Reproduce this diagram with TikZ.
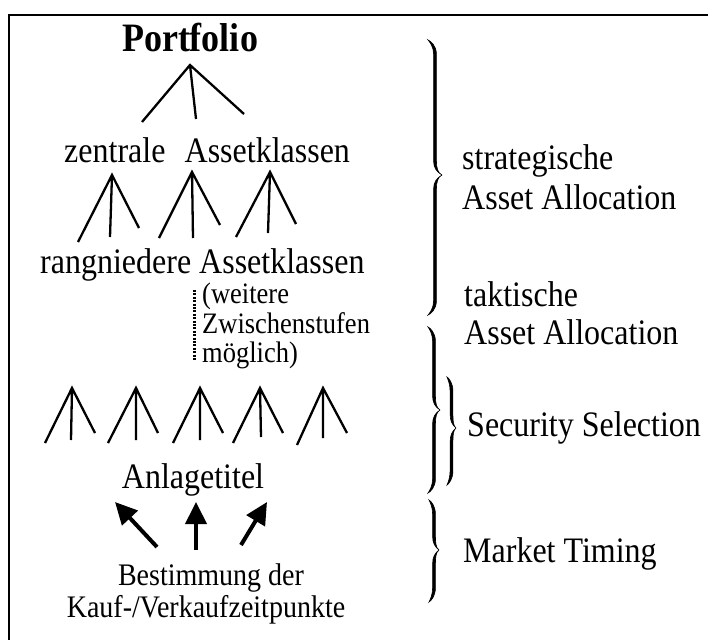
\documentclass[tikz,border=0pt]{standalone}
\usepackage{fontspec}
\setmainfont{Liberation Serif}
\usetikzlibrary{arrows.meta}

\tikzset{
  tall/.style={yscale=1.12},
  lbl/.style={font=\fontsize{32}{38}\selectfont, inner sep=0pt, anchor=base, tall},
  lblw/.style={lbl, anchor=base west},
  title/.style={font=\bfseries\fontsize{36}{40}\selectfont, inner sep=0pt, anchor=base, tall},
  note/.style={font=\fontsize{26.5}{30}\selectfont, inner sep=0pt, anchor=base west, tall},
  foot/.style={font=\fontsize{28}{32}\selectfont, inner sep=0pt, anchor=base, tall},
  branch/.style={line width=2.3pt},
  timing/.style={line width=4pt, -{Triangle[length=22pt,width=21pt]}},
  frameline/.style={line width=2.2pt},
  dots/.style={line width=3pt, dash pattern=on 2pt off 1.4pt},
}

% a three-legged fork: name, apex, left / middle / right end
\newcommand\tripod[5]{%
  \coordinate (#1) at (#2);
  \coordinate (#1-l) at (#3);
  \coordinate (#1-m) at (#4);
  \coordinate (#1-r) at (#5);
  \draw[branch] (#1-l) -- (#1) -- (#1-r) (#1) -- (#1-m);
}

% one half of a curly brace: cusp at the origin, end at (-width,-length)
\newcommand\halfbrace[2]{%
  \filldraw[line width=0.6pt]
    (0,0) .. controls ({-0.3*(#1)},-2) and ({-0.5*(#1)+1.4},-7) .. ({-0.5*(#1)+1.4},-14)
    -- ({-0.5*(#1)+1.4},{-(#2)+14})
    .. controls ({-0.5*(#1)+1.4},{-(#2)+6}) and ({-0.8*(#1)},{-(#2)+1}) .. ({-(#1)},{-(#2)})
    .. controls ({-0.8*(#1)-1},{-(#2)+2}) and ({-0.5*(#1)-1.4},{-(#2)+7}) .. ({-0.5*(#1)-1.4},{-(#2)+14})
    -- ({-0.5*(#1)-1.4},-14)
    .. controls ({-0.5*(#1)-1.4},-7) and ({-0.3*(#1)-1},-3) .. (0,0) -- cycle;
}

% full brace: left x, top y, cusp y, bottom y, width
\newcommand\curlybrace[5]{%
  \begin{scope}[shift={(#1+#5,#3)}]\halfbrace{#5}{#3-#2}\end{scope}
  \begin{scope}[shift={(#1+#5,#3)},yscale=-1]\halfbrace{#5}{#4-#3}\end{scope}
}

\begin{document}
\begin{tikzpicture}[x=1pt,y=-1pt]
  \useasboundingbox (0,0) rectangle (708,639);
  \clip (0,0) rectangle (708,639);

  % frame
  \draw[frameline] (9,650) -- (9,15) -- (720,15);

  % hierarchy labels
  \node[title] (portfolio) at (190,52) {Portfolio};
  \node[lblw] (zentral) at (64,162) {zentrale\hspace{0.6em}Assetklassen};
  \node[lblw] (rang) at (40,273) {rangniedere Assetklassen};
  \node[note] (n1) at (202,303) {(weitere};
  \node[note] (n2) at (202,333) {Zwischenstufen};
  \node[note] (n3) at (202,362) {möglich)};
  \node[lbl] (titel) at (193,488) {Anlagetitel};
  \node[foot] (best1) at (211,585) {Bestimmung der};
  \node[foot] (best2) at (206,617) {Kauf-/Verkaufzeitpunkte};

  % forks
  \tripod{t0}{190,65}{142,122}{196,119}{244,114}
  \tripod{t1}{112,175}{78,242}{110,237}{139,228}
  \tripod{t2}{192,172}{159,238}{193,238}{220,225}
  \tripod{t3}{270,172}{236,237}{268,233}{296,224}
  \tripod{s1}{72,388}{45,443}{71,440}{95,433}
  \tripod{s2}{136,388}{108,443}{136,440}{158,433}
  \tripod{s3}{200,388}{173,443}{200,440}{223,433}
  \tripod{s4}{260,388}{233,443}{261,437}{283,433}
  \tripod{s5}{323,388}{297,445}{323,438}{347,433}

  % further intermediate levels
  \coordinate (d0) at (194,290);
  \coordinate (d1) at (194,360);
  \draw[dots] (d0) -- (d1);

  % timing arrows
  \coordinate (m1s) at (157,547); \coordinate (m1e) at (115,502);
  \coordinate (m2s) at (196,550); \coordinate (m2e) at (196,502);
  \coordinate (m3s) at (241,545); \coordinate (m3e) at (267,502);
  \draw[timing] (m1s) -- (m1e);
  \draw[timing] (m2s) -- (m2e);
  \draw[timing] (m3s) -- (m3e);

  % braces
  \curlybrace{428}{40}{175}{315}{14}
  \curlybrace{428}{327}{410}{493}{12}
  \curlybrace{447}{377}{428}{485}{9}
  \curlybrace{429}{500}{550}{602}{10}

  % phase labels
  \node[lblw] (strat1) at (462,169) {strategische};
  \node[lblw] (strat2) at (462,209) {Asset Allocation};
  \node[lblw] (takt1) at (464,306) {taktische};
  \node[lblw] (takt2) at (464,344) {Asset Allocation};
  \node[lblw] (sel) at (467,436) {Security Selection};
  \node[lblw] (mt) at (463,562) {Market Timing};
\end{tikzpicture}
\end{document}
